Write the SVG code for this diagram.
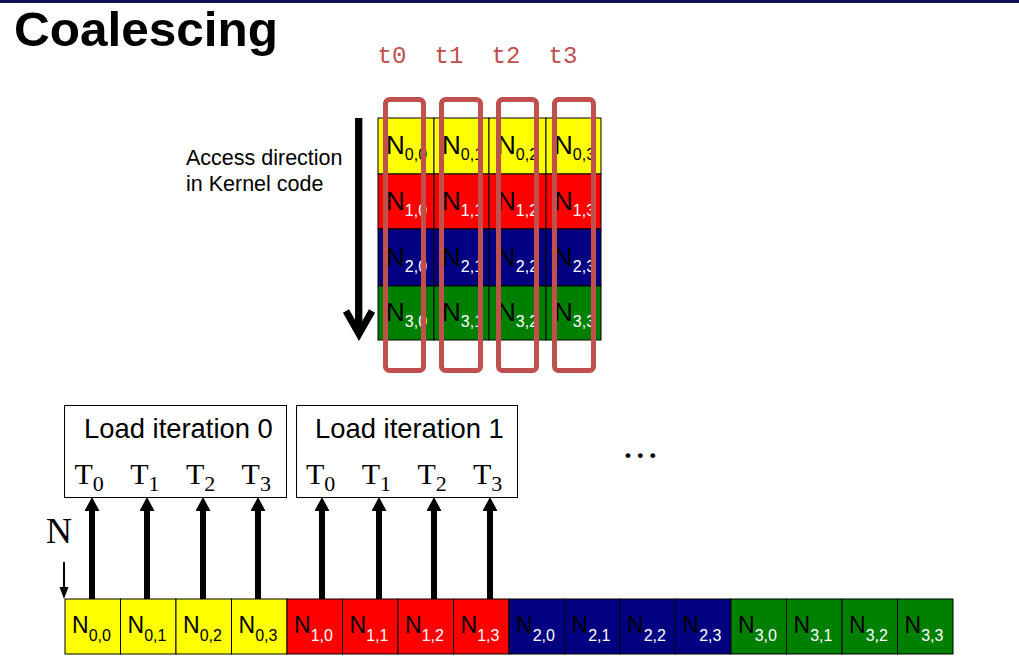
<svg xmlns="http://www.w3.org/2000/svg" width="1019" height="662" viewBox="0 0 1019 662">
<defs>
<style>
.title{font-family:"Liberation Sans",Arial,sans-serif;font-weight:bold;font-size:48px;fill:#000}
.tl{font-family:"Liberation Mono","DejaVu Sans Mono",monospace;font-size:24px;fill:#c0504d;text-anchor:middle}
.lbl{font-family:"Liberation Sans",Arial,sans-serif;fill:#000}
.ser{font-family:"Liberation Serif","Times New Roman",serif;fill:#000}
.cell{stroke:#000;stroke-width:1}
.y{fill:#ffff00}.r{fill:#ff0000}.b{fill:#000080}.g{fill:#008000}
.ct{font-family:"Liberation Sans",Arial,sans-serif;fill:#000}
.w{fill:#fff}
.sel{fill:none;stroke:#c0504d;stroke-width:5}
.box{fill:#fff;stroke:#000;stroke-width:1}
.ar{stroke:#000;stroke-width:6}
</style>
<marker id="ah" markerWidth="15" markerHeight="14" refX="7.5" refY="14" orient="0" markerUnits="userSpaceOnUse">
<path d="M0,14 L7.5,0 L15,14 Z" fill="#000"/>
</marker>
</defs>
<rect x="0" y="0" width="1019" height="662" fill="#fff"/>
<rect x="0" y="0" width="1019" height="3" fill="#10105a"/>
<text class="title" x="14" y="46" textLength="264" lengthAdjust="spacingAndGlyphs">Coalescing</text>
<g id="thread-labels">
<text class="tl" x="392" y="63">t0</text>
<text class="tl" x="449" y="63">t1</text>
<text class="tl" x="506" y="63">t2</text>
<text class="tl" x="563" y="63">t3</text>
</g>
<g id="access-label">
<text class="lbl" x="186" y="165" font-size="21.5">Access direction</text>
<text class="lbl" x="186" y="191" font-size="21.5">in Kernel code</text>
</g>
<g id="matrix">
<g id="m00"><rect class="cell y" x="378" y="118" width="56" height="56"/><text class="ct" x="386" y="154" font-size="26">N<tspan font-size="16" dy="6">0,0</tspan></text></g>
<g id="m01"><rect class="cell y" x="434" y="118" width="55" height="56"/><text class="ct" x="442" y="154" font-size="26">N<tspan font-size="16" dy="6">0,1</tspan></text></g>
<g id="m02"><rect class="cell y" x="489" y="118" width="57" height="56"/><text class="ct" x="497" y="154" font-size="26">N<tspan font-size="16" dy="6">0,2</tspan></text></g>
<g id="m03"><rect class="cell y" x="546" y="118" width="55" height="56"/><text class="ct" x="554" y="154" font-size="26">N<tspan font-size="16" dy="6">0,3</tspan></text></g>
<g id="m10"><rect class="cell r" x="378" y="174" width="56" height="55"/><text class="ct" x="386" y="210" font-size="26">N<tspan class="w" font-size="16" dy="6">1,0</tspan></text></g>
<g id="m11"><rect class="cell r" x="434" y="174" width="55" height="55"/><text class="ct" x="442" y="210" font-size="26">N<tspan class="w" font-size="16" dy="6">1,1</tspan></text></g>
<g id="m12"><rect class="cell r" x="489" y="174" width="57" height="55"/><text class="ct" x="497" y="210" font-size="26">N<tspan class="w" font-size="16" dy="6">1,2</tspan></text></g>
<g id="m13"><rect class="cell r" x="546" y="174" width="55" height="55"/><text class="ct" x="554" y="210" font-size="26">N<tspan class="w" font-size="16" dy="6">1,3</tspan></text></g>
<g id="m20"><rect class="cell b" x="378" y="229" width="56" height="57"/><text class="ct" x="386" y="266" font-size="26">N<tspan class="w" font-size="16" dy="6">2,0</tspan></text></g>
<g id="m21"><rect class="cell b" x="434" y="229" width="55" height="57"/><text class="ct" x="442" y="266" font-size="26">N<tspan class="w" font-size="16" dy="6">2,1</tspan></text></g>
<g id="m22"><rect class="cell b" x="489" y="229" width="57" height="57"/><text class="ct" x="497" y="266" font-size="26">N<tspan class="w" font-size="16" dy="6">2,2</tspan></text></g>
<g id="m23"><rect class="cell b" x="546" y="229" width="55" height="57"/><text class="ct" x="554" y="266" font-size="26">N<tspan class="w" font-size="16" dy="6">2,3</tspan></text></g>
<g id="m30"><rect class="cell g" x="378" y="286" width="56" height="54"/><text class="ct" x="386" y="321" font-size="26">N<tspan class="w" font-size="16" dy="6">3,0</tspan></text></g>
<g id="m31"><rect class="cell g" x="434" y="286" width="55" height="54"/><text class="ct" x="442" y="321" font-size="26">N<tspan class="w" font-size="16" dy="6">3,1</tspan></text></g>
<g id="m32"><rect class="cell g" x="489" y="286" width="57" height="54"/><text class="ct" x="497" y="321" font-size="26">N<tspan class="w" font-size="16" dy="6">3,2</tspan></text></g>
<g id="m33"><rect class="cell g" x="546" y="286" width="55" height="54"/><text class="ct" x="554" y="321" font-size="26">N<tspan class="w" font-size="16" dy="6">3,3</tspan></text></g>
</g>
<g id="thread-columns">
<rect class="sel" x="385.5" y="99.5" width="38" height="271" rx="4"/>
<rect class="sel" x="441.5" y="99.5" width="39" height="271" rx="4"/>
<rect class="sel" x="498.5" y="99.5" width="38" height="271" rx="4"/>
<rect class="sel" x="554.5" y="99.5" width="39" height="271" rx="4"/>
</g>
<g id="access-arrow">
<line x1="358.7" y1="118" x2="358.7" y2="332" stroke="#000" stroke-width="7.3"/>
<polyline points="346,311 359,334 372,311" fill="none" stroke="#000" stroke-width="7" stroke-linejoin="miter"/>
</g>
<g id="load0">
<rect class="box" x="64.5" y="405.5" width="222" height="92"/>
<text class="lbl" x="84" y="438" font-size="27.4">Load iteration 0</text>
<text class="ser" x="74.5" y="484" font-size="30">T<tspan font-size="22" dy="7">0</tspan></text>
<text class="ser" x="130.2" y="484" font-size="30">T<tspan font-size="22" dy="7">1</tspan></text>
<text class="ser" x="185.9" y="484" font-size="30">T<tspan font-size="22" dy="7">2</tspan></text>
<text class="ser" x="241.6" y="484" font-size="30">T<tspan font-size="22" dy="7">3</tspan></text>
</g>
<g id="load1">
<rect class="box" x="296.5" y="405.5" width="221" height="92"/>
<text class="lbl" x="315" y="438" font-size="27.4">Load iteration 1</text>
<text class="ser" x="306" y="484" font-size="30">T<tspan font-size="22" dy="7">0</tspan></text>
<text class="ser" x="361.7" y="484" font-size="30">T<tspan font-size="22" dy="7">1</tspan></text>
<text class="ser" x="417.4" y="484" font-size="30">T<tspan font-size="22" dy="7">2</tspan></text>
<text class="ser" x="473" y="484" font-size="30">T<tspan font-size="22" dy="7">3</tspan></text>
</g>
<g id="ellipsis">
<text class="ser" x="624.3" y="458" font-size="30" font-weight="bold" letter-spacing="4.8">...</text>
</g>
<g id="n-label">
<text class="ser" x="46" y="543" font-size="36">N</text>
</g>
<g id="array">
<g id="a00"><rect class="cell y" x="65" y="599" width="55.5" height="55"/><text class="ct" x="72" y="632.5" font-size="23">N<tspan font-size="16" dy="8.5">0,0</tspan></text></g>
<g id="a01"><rect class="cell y" x="120.5" y="599" width="55.5" height="55"/><text class="ct" x="127.5" y="632.5" font-size="23">N<tspan font-size="16" dy="8.5">0,1</tspan></text></g>
<g id="a02"><rect class="cell y" x="176" y="599" width="55.5" height="55"/><text class="ct" x="183" y="632.5" font-size="23">N<tspan font-size="16" dy="8.5">0,2</tspan></text></g>
<g id="a03"><rect class="cell y" x="231.5" y="599" width="55.5" height="55"/><text class="ct" x="238.5" y="632.5" font-size="23">N<tspan font-size="16" dy="8.5">0,3</tspan></text></g>
<g id="a10"><rect class="cell r" x="287" y="599" width="55.5" height="55"/><text class="ct" x="294" y="632.5" font-size="23">N<tspan class="w" font-size="16" dy="8.5">1,0</tspan></text></g>
<g id="a11"><rect class="cell r" x="342.5" y="599" width="55.5" height="55"/><text class="ct" x="349.5" y="632.5" font-size="23">N<tspan class="w" font-size="16" dy="8.5">1,1</tspan></text></g>
<g id="a12"><rect class="cell r" x="398" y="599" width="55.5" height="55"/><text class="ct" x="405" y="632.5" font-size="23">N<tspan class="w" font-size="16" dy="8.5">1,2</tspan></text></g>
<g id="a13"><rect class="cell r" x="453.5" y="599" width="55.5" height="55"/><text class="ct" x="460.5" y="632.5" font-size="23">N<tspan class="w" font-size="16" dy="8.5">1,3</tspan></text></g>
<g id="a20"><rect class="cell b" x="509" y="599" width="55.5" height="55"/><text class="ct" x="516" y="632.5" font-size="23">N<tspan class="w" font-size="16" dy="8.5">2,0</tspan></text></g>
<g id="a21"><rect class="cell b" x="564.5" y="599" width="55.5" height="55"/><text class="ct" x="571.5" y="632.5" font-size="23">N<tspan class="w" font-size="16" dy="8.5">2,1</tspan></text></g>
<g id="a22"><rect class="cell b" x="620" y="599" width="55.5" height="55"/><text class="ct" x="627" y="632.5" font-size="23">N<tspan class="w" font-size="16" dy="8.5">2,2</tspan></text></g>
<g id="a23"><rect class="cell b" x="675.5" y="599" width="55.5" height="55"/><text class="ct" x="682.5" y="632.5" font-size="23">N<tspan class="w" font-size="16" dy="8.5">2,3</tspan></text></g>
<g id="a30"><rect class="cell g" x="731" y="599" width="55.5" height="55"/><text class="ct" x="738" y="632.5" font-size="23">N<tspan class="w" font-size="16" dy="8.5">3,0</tspan></text></g>
<g id="a31"><rect class="cell g" x="786.5" y="599" width="55.5" height="55"/><text class="ct" x="793.5" y="632.5" font-size="23">N<tspan class="w" font-size="16" dy="8.5">3,1</tspan></text></g>
<g id="a32"><rect class="cell g" x="842" y="599" width="55.5" height="55"/><text class="ct" x="849" y="632.5" font-size="23">N<tspan class="w" font-size="16" dy="8.5">3,2</tspan></text></g>
<g id="a33"><rect class="cell g" x="897.5" y="599" width="55.5" height="55"/><text class="ct" x="904.5" y="632.5" font-size="23">N<tspan class="w" font-size="16" dy="8.5">3,3</tspan></text></g>
</g>
<g id="connectors">
<line class="ar" x1="92" y1="599" x2="92" y2="511" marker-end="url(#ah)"/>
<line class="ar" x1="147" y1="599" x2="147" y2="511" marker-end="url(#ah)"/>
<line class="ar" x1="203" y1="599" x2="203" y2="511" marker-end="url(#ah)"/>
<line class="ar" x1="258" y1="599" x2="258" y2="511" marker-end="url(#ah)"/>
<line class="ar" x1="322" y1="599" x2="322" y2="511" marker-end="url(#ah)"/>
<line class="ar" x1="379" y1="599" x2="379" y2="511" marker-end="url(#ah)"/>
<line class="ar" x1="434" y1="599" x2="434" y2="511" marker-end="url(#ah)"/>
<line class="ar" x1="490" y1="599" x2="490" y2="511" marker-end="url(#ah)"/>
<line x1="64" y1="562" x2="64" y2="589" stroke="#000" stroke-width="2"/>
<path d="M59.5,587 L68.5,587 L64,599 Z" fill="#000"/>
</g>
</svg>
